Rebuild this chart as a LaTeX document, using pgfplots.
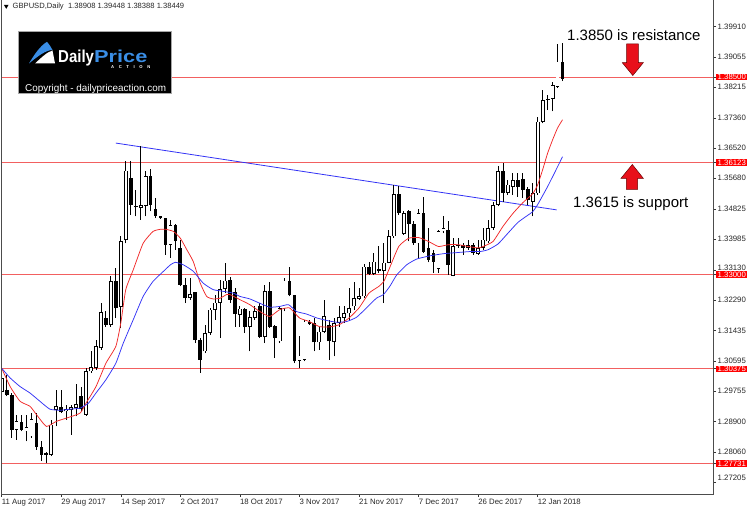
\documentclass[border=0pt]{standalone}
\usepackage{pgfplots}
\pgfplotsset{compat=1.18}
\usepackage{pgfplotstable}
\usepackage{fontspec}
\setmainfont{Liberation Sans}

\definecolor{hl}{RGB}{242,96,96}
\definecolor{mared}{RGB}{240,40,40}
\definecolor{mablue}{RGB}{50,50,245}
\definecolor{logoblue}{RGB}{58,142,230}
\definecolor{arrred}{RGB}{232,16,26}

\pgfplotstableread{
i o h l c
0 1.2974 1.3035 1.2937 1.3012
1 1.2979 1.3021 1.2961 1.2965
2 1.2965 1.2970 1.2845 1.2868
3 1.2868 1.2910 1.2840 1.2891
4 1.2889 1.2910 1.2863 1.2868
5 1.2863 1.2910 1.2835 1.2874
6 1.2849 1.2914 1.2845 1.2897
7 1.2886 1.2914 1.2812 1.2821
8 1.2821 1.2835 1.2780 1.2798
9 1.2803 1.2807 1.2774 1.2798
10 1.2798 1.2896 1.2794 1.2882
11 1.2923 1.2979 1.2877 1.2933
12 1.2931 1.2979 1.2914 1.2916
13 1.2919 1.2937 1.2896 1.2925
14 1.2923 1.2936 1.2854 1.2931
15 1.2928 1.2996 1.2905 1.2940
16 1.2961 1.2988 1.2919 1.2925
17 1.2910 1.3039 1.2907 1.3030
18 1.3030 1.3086 1.3026 1.3042
19 1.3039 1.3118 1.3035 1.3100
20 1.3095 1.3222 1.3090 1.3195
21 1.3180 1.3197 1.3155 1.3160
22 1.3160 1.3297 1.3155 1.3281
23 1.3281 1.3318 1.3179 1.3206
24 1.3210 1.3408 1.3151 1.3394
25 1.3397 1.3615 1.3387 1.3589
26 1.3570 1.3615 1.3466 1.3494
27 1.3492 1.3536 1.3462 1.3487
28 1.3486 1.3658 1.3452 1.3493
29 1.3491 1.3587 1.3462 1.3573
30 1.3573 1.3594 1.3476 1.3494
31 1.3483 1.3513 1.3457 1.3464
32 1.3462 1.3464 1.3454 1.3457
33 1.3457 1.3457 1.3355 1.3383
34 1.3383 1.3452 1.3346 1.3438
35 1.3438 1.3440 1.3369 1.3392
36 1.3374 1.3397 1.3267 1.3271
37 1.3271 1.3290 1.3220 1.3234
38 1.3234 1.3290 1.3230 1.3245
39 1.3250 1.3252 1.3109 1.3118
40 1.3118 1.3123 1.3026 1.3063
41 1.3086 1.3160 1.3081 1.3137
42 1.3137 1.3206 1.3132 1.3202
43 1.3202 1.3244 1.3174 1.3222
44 1.3220 1.3285 1.3123 1.3259
45 1.3259 1.3331 1.3248 1.3283
46 1.3285 1.3294 1.3220 1.3230
47 1.3251 1.3262 1.3155 1.3190
48 1.3188 1.3211 1.3155 1.3205
49 1.3205 1.3206 1.3137 1.3155
50 1.3155 1.3197 1.3086 1.3181
51 1.3179 1.3211 1.3174 1.3197
52 1.3211 1.3220 1.3123 1.3126
53 1.3126 1.3271 1.3109 1.3253
54 1.3253 1.3278 1.3151 1.3155
55 1.3157 1.3160 1.3067 1.3123
56 1.3114 1.3211 1.3109 1.3206
57 1.3206 1.3290 1.3197 1.3283
58 1.3283 1.3322 1.3239 1.3242
59 1.3242 1.3244 1.3053 1.3058
60 1.3060 1.3130 1.3039 1.3074
61 1.3063 1.3174 1.3058 1.3169
62 1.3168 1.3172 1.3160 1.3162
63 1.3165 1.3179 1.3086 1.3111
64 1.3111 1.3155 1.3090 1.3141
65 1.3141 1.3230 1.3137 1.3185
66 1.3160 1.3174 1.3063 1.3114
67 1.3112 1.3179 1.3072 1.3165
68 1.3165 1.3213 1.3155 1.3181
69 1.3179 1.3211 1.3165 1.3192
70 1.3192 1.3262 1.3174 1.3206
71 1.3211 1.3278 1.3202 1.3234
72 1.3232 1.3262 1.3230 1.3239
73 1.3239 1.3329 1.3234 1.3322
74 1.3322 1.3336 1.3299 1.3302
75 1.3302 1.3360 1.3298 1.3336
76 1.3311 1.3378 1.3304 1.3315
77 1.3311 1.3387 1.3220 1.3333
78 1.3333 1.3424 1.3331 1.3406
79 1.3406 1.3550 1.3401 1.3524
80 1.3524 1.3547 1.3466 1.3471
81 1.3413 1.3476 1.3411 1.3471
82 1.3478 1.3480 1.3392 1.3440
83 1.3440 1.3448 1.3383 1.3387
84 1.3387 1.3483 1.3346 1.3471
85 1.3471 1.3517 1.3360 1.3364
86 1.3374 1.3429 1.3334 1.3341
87 1.3360 1.3369 1.3304 1.3335
88 1.3315 1.3424 1.3304 1.3420
89 1.3420 1.3464 1.3415 1.3429
90 1.3424 1.3448 1.3299 1.3327
91 1.3297 1.3401 1.3295 1.3380
92 1.3383 1.3401 1.3374 1.3380
93 1.3383 1.3387 1.3355 1.3374
94 1.3374 1.3397 1.3369 1.3382
95 1.3383 1.3387 1.3355 1.3360
96 1.3358 1.3397 1.3355 1.3374
97 1.3374 1.3429 1.3369 1.3397
98 1.3392 1.3452 1.3387 1.3429
99 1.3429 1.3503 1.3424 1.3494
100 1.3494 1.3601 1.3490 1.3587
101 1.3587 1.3610 1.3503 1.3527
102 1.3527 1.3563 1.3522 1.3550
103 1.3545 1.3582 1.3522 1.3563
104 1.3563 1.3582 1.3517 1.3545
105 1.3565 1.3582 1.3513 1.3536
106 1.3538 1.3545 1.3494 1.3508
107 1.3503 1.3554 1.3462 1.3527
108 1.3526 1.3740 1.3522 1.3726
109 1.3726 1.3814 1.3721 1.3786
110 1.3786 1.3800 1.3758 1.3789
111 1.3789 1.3837 1.3754 1.3828
112 1.3823 1.3942 1.3819 1.3893
113 1.38908 1.39448 1.38388 1.38449
}\candles

\begin{document}
\begin{tikzpicture}[x=1pt,y=1pt]
\useasboundingbox (0,0) rectangle (750,509);
\begin{axis}[
  at={(1.2pt,15pt)}, anchor=south west, scale only axis,
  width=711.8pt, height=494pt,
  xmin=-0.1, xmax=143.32, ymin=1.268894, ymax=1.406460,
  axis line style={draw=none},
  clip=true,
  xtick pos=bottom, ytick pos=right, yticklabel pos=right,
  tick align=outside, major tick length=3pt,
  tick style={black!80, line width=0.6pt},
  xtick={0,12,24,36,48,60,72,84,96,108},
  xticklabels={11 Aug 2017,29 Aug 2017,14 Sep 2017,2 Oct 2017,18 Oct 2017,3 Nov 2017,21 Nov 2017,7 Dec 2017,26 Dec 2017,12 Jan 2018},
  xticklabel style={anchor=north west, inner xsep=0pt, inner ysep=1.5pt, font=\fontsize{7.8}{9}\selectfont, text=black!85},
  ytick={1.27205,1.28060,1.28900,1.29755,1.30595,1.31435,1.32290,1.33130,1.33985,1.34825,1.35680,1.36520,1.37360,1.38215,1.39055,1.39910},
  yticklabels={\raisebox{9pt}{1.27205},1.28060,1.28900,1.29755,1.30595,1.31435,1.32290,\raisebox{4pt}{1.33130},1.33985,1.34825,1.35680,1.36520,1.37360,\raisebox{-0.5pt}{1.38215},1.39055,1.39910},
  yticklabel style={anchor=west, inner xsep=1.5pt, inner ysep=0.8pt, font=\fontsize{7.8}{9}\selectfont, text=black!85},
  extra y ticks={1.27731,1.30375,1.33,1.36123,1.385},
  extra y tick labels={1.27731,1.30375,1.33000,1.36123,1.38500},
  extra y tick style={yticklabel style={fill=red, text=white, inner ysep=0.5pt}},
  /pgf/number format/assume math mode=true,
]
% horizontal levels
\addplot[hl, line width=1pt] coordinates {(-0.1,1.385) (143.32,1.385)};
\addplot[hl, line width=1pt] coordinates {(-0.1,1.36123) (143.32,1.36123)};
\addplot[hl, line width=1pt] coordinates {(-0.1,1.33) (143.32,1.33)};
\addplot[hl, line width=1pt] coordinates {(-0.1,1.30375) (143.32,1.30375)};
\addplot[hl, line width=1pt] coordinates {(-0.1,1.27731) (143.32,1.27731)};
% trendline
\addplot[mablue, line width=0.8pt] coordinates {(23.0,1.3666) (111.8,1.3480)};
% wicks
\addplot[draw=none, error bars/.cd, y dir=plus, y explicit, error mark=none,
  error bar style={draw=black, line width=0.9pt}]
  table[x=i, y=l, y error expr={\thisrow{h}-\thisrow{l}}] {\candles};
% bodies (outline / bear fill)
\addplot[draw=none, error bars/.cd, y dir=plus, y explicit, error mark=none,
  error bar style={draw=black, line width=3.8pt}]
  table[x=i, y expr={min(\thisrow{o},\thisrow{c})}, y error expr={max(abs(\thisrow{c}-\thisrow{o}),0.00028)}] {\candles};
% bull bodies inner white
\addplot[draw=none, error bars/.cd, y dir=plus, y explicit, error mark=none,
  error bar style={draw=white, line width=2.3pt}]
  table[x=i, y expr={(\thisrow{c}>\thisrow{o}+0.0004) ? (\thisrow{o}+0.00021) : 0},
        y error expr={(\thisrow{c}>\thisrow{o}+0.0004) ? (\thisrow{c}-\thisrow{o}-0.00042) : 0}] {\candles};
% moving averages
\addplot[mared, line width=0.75pt, smooth, tension=0.3] coordinates {
(0,1.3039) (1.7,1.2988) (3.7,1.2947) (5.7,1.2933) (7,1.2910) (9,1.2877) (11,1.2891) (13,1.2900) (15.8,1.2914) (17,1.2942) (19,1.2988) (21,1.3053) (23,1.3100) (24,1.3165) (25,1.3258) (26.5,1.3313) (28.5,1.3387) (30.5,1.3420) (32,1.3426) (33,1.3426) (34.6,1.3420) (36,1.3401) (37.3,1.3369) (38.6,1.3336) (40,1.3276) (41.3,1.3239) (42.6,1.3232) (44,1.3234) (45.3,1.3244) (46,1.3244) (48,1.3230) (50,1.3216) (52,1.3197) (54,1.3183) (56,1.3202) (58,1.3207) (60,1.3179) (62,1.3169) (64,1.3155) (66,1.3154) (68,1.3160) (70,1.3179) (72,1.3207) (74,1.3248) (76,1.3267) (77,1.3281) (78,1.3313) (80,1.3378) (82,1.3401) (84,1.3403) (86,1.3392) (88,1.3378) (90,1.3383) (92,1.3383) (94,1.3378) (96,1.3374) (97,1.3378) (99,1.3392) (101,1.3434) (103,1.3470) (105,1.3500) (107,1.3525) (108,1.3550) (109,1.3592) (110,1.3638) (111,1.3675) (112,1.3708) (113,1.3731)};
\addplot[mablue, line width=0.75pt, smooth, tension=0.3] coordinates {
(0,1.3039) (1.7,1.3012) (3.7,1.2988) (5.7,1.2970) (7.7,1.2947) (9.7,1.2925) (11.8,1.2922) (13.8,1.2925) (15.8,1.2928) (17.5,1.2942) (19,1.2970) (21,1.3007) (23,1.3053) (24.5,1.3109) (26.5,1.3174) (28.5,1.3239) (30.5,1.3281) (32.6,1.3309) (34,1.3327) (35,1.3334) (36.6,1.3327) (38.6,1.3309) (40.6,1.3276) (42.6,1.3258) (44.7,1.3253) (46.7,1.3248) (48,1.3239) (50,1.3232) (52,1.3220) (54,1.3209) (56,1.3211) (57.8,1.3216) (59.4,1.3197) (61.4,1.3190) (63.5,1.3179) (65.5,1.3172) (67.5,1.3167) (69.5,1.3169) (71.5,1.3181) (73.5,1.3207) (75.5,1.3234) (76.9,1.3244) (78.2,1.3267) (79.6,1.3299) (81.6,1.3327) (83.6,1.3343) (86.3,1.3352) (89,1.3358) (91.7,1.3361) (94.4,1.3364) (96.4,1.3364) (98,1.3369) (100,1.3385) (102,1.3415) (104,1.3445) (106,1.3465) (107,1.3475) (108,1.3495) (110,1.3545) (112,1.3600) (113,1.3628)};
\end{axis}
% frame
\draw[black!70, line width=0.8pt] (1.6,509) -- (1.6,15) -- (713,15) -- (713,509);
% header
\fill[black] (4,509-5) -- (8.5,509-5) -- (6.25,509-8.8) -- cycle;
\node[anchor=west, inner sep=0pt, font=\fontsize{7.6}{9}\selectfont, text=black!85] at (12.5,509-6.8) {GBPUSD,Daily\ \ 1.38908 1.39448 1.38388 1.38449};
% logo
\fill[black] (18.3,509-31.7) rectangle (171.7,509-93.3);
\draw[black!35, line width=0.8pt] (18.3,509-31.7) rectangle (171.7,509-93.3);
\fill[logoblue] (29,509-63.5) .. controls (34,509-55) and (40,509-46) .. (47,509-41.8) .. controls (49,509-44) and (51,509-47) .. (52.5,509-50) .. controls (46,509-50) and (38,509-56) .. cycle;
\fill[white] (35,509-63.5) .. controls (41,509-58) and (47,509-52) .. (52.5,509-50.5) -- (55,509-63.5) -- cycle;
\node[anchor=base west, inner sep=0pt, text=white, font=\fontsize{15}{15}\bfseries\selectfont] at (58,509-63) {\scalebox{1.0}[1.15]{Daily}};
\node[anchor=base west, inner sep=0pt, text=logoblue, font=\fontsize{15}{15}\bfseries\selectfont] at (94,509-63) {\scalebox{1.45}[1.15]{Price}};
\node[anchor=west, inner sep=0pt, text=white, font=\fontsize{4.2}{5}\bfseries\selectfont] at (111,509-67.2) {A\hspace{4.6pt}C\hspace{4.6pt}T\hspace{4.6pt}I\hspace{4.6pt}O\hspace{4.6pt}N};
\node[anchor=base west, inner sep=0pt, text=white, font=\fontsize{9.9}{11}\selectfont] at (25,509-91.5) {Copyright - dailypriceaction.com};
% annotations
\node[anchor=base west, inner sep=0pt, font=\fontsize{15}{18}\selectfont] at (567,509-40.8) {1.3850 is resistance};
\node[anchor=base west, inner sep=0pt, font=\fontsize{15}{18}\selectfont] at (573,509-207.3) {1.3615 is support};
\filldraw[fill=arrred, draw=red!40!black, line width=0.5pt]
  (626.7,509-44) -- (638.3,509-44) -- (638.3,509-62.7) -- (643.3,509-62.7) -- (632.8,509-75.5) -- (622.3,509-62.7) -- (626.7,509-62.7) -- cycle;
\filldraw[fill=arrred, draw=red!40!black, line width=0.5pt]
  (632.3,509-164.5) -- (643.3,509-178.3) -- (637.7,509-178.3) -- (637.7,509-189.5) -- (626.3,509-189.5) -- (626.3,509-178.3) -- (621,509-178.3) -- cycle;
\end{tikzpicture}
\end{document}
